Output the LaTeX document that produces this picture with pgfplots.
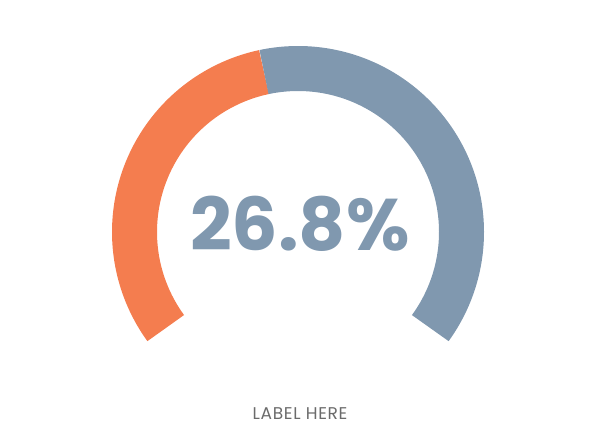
\documentclass[border=0pt]{standalone}
\usepackage{fontspec}
\setmainfont{Poppins}
\usepackage{pgfplots}
\pgfplotsset{compat=1.18}
\definecolor{gaugeorange}{HTML}{F47D4F}
\definecolor{gaugeblue}{HTML}{8098AF}
\definecolor{labelgray}{HTML}{6B6B6B}
% gauge: start angle, boundary angle, end angle (degrees)
\def\gstart{216}
\def\gsplit{102}
\def\gend{-36}
\begin{document}
\begin{tikzpicture}
\begin{axis}[
  width=600pt, height=424pt, scale only axis,
  xmin=-298, xmax=302, ymin=-192, ymax=232,
  hide axis, clip=false,
]
\addplot[data cs=polar, domain=\gsplit:\gstart, samples=150, line width=45pt, draw=gaugeorange] (x,163.5);
\addplot[data cs=polar, domain=\gend:\gsplit, samples=250, line width=45pt, draw=gaugeblue] (x,163.5);
\node[text=gaugeblue, font=\fontsize{73}{73}\selectfont\bfseries, anchor=base, inner sep=0pt] at (axis cs:2,-18) {26.8\%};
\node[text=labelgray, font=\fontsize{17}{17}\selectfont\addfontfeatures{LetterSpace=4}, anchor=base, inner sep=0pt] at (axis cs:2,-187.5) {LABEL HERE};
\end{axis}
\useasboundingbox (current axis.south west) rectangle (current axis.north east);
\end{tikzpicture}
\end{document}
